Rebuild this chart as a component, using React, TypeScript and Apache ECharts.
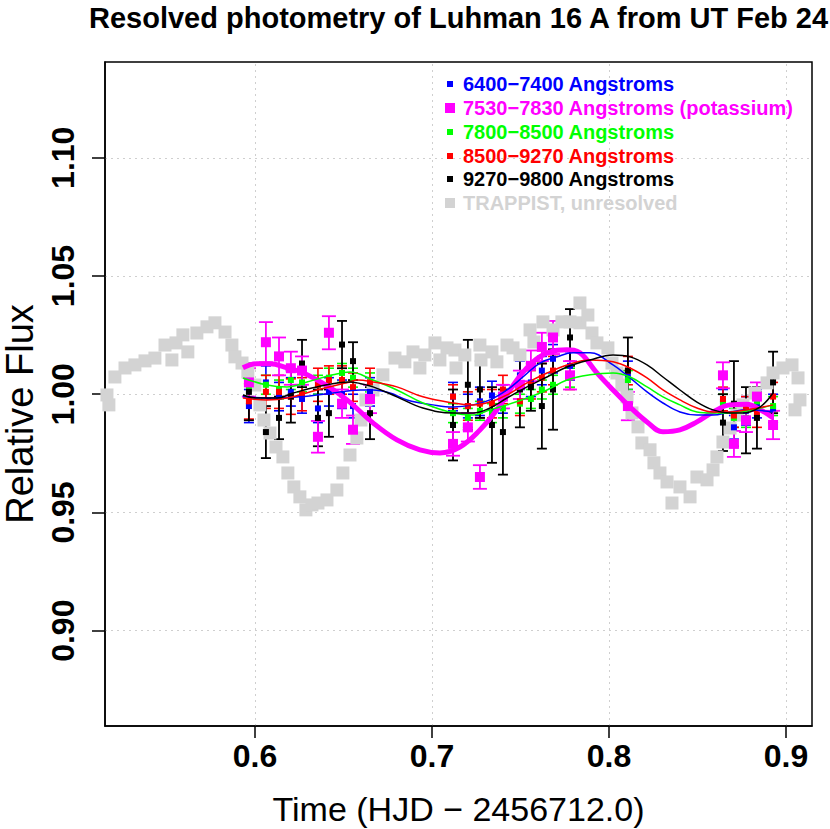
import React, { useEffect, useRef } from "react";
import * as echarts from "echarts";

// ---------- data ----------
const X_MIN = 0.5153;
const X_MAX = 0.9147;
const Y_MIN = 0.8597;
const Y_MAX = 1.1405;
const X_TICKS = [0.6, 0.7, 0.8, 0.9];
const Y_TICKS = [0.9, 0.95, 1.0, 1.05, 1.1];

const BAND_NAMES = [
  "6400\u22127400 Angstroms",
  "7530\u22127830 Angstroms (potassium)",
  "7800\u22128500 Angstroms",
  "8500\u22129270 Angstroms",
  "9270\u22129800 Angstroms",
  "TRAPPIST, unresolved",
];

const TIMES = [0.5966, 0.6062, 0.6136, 0.6203, 0.6266, 0.6356, 0.6418, 0.6492, 0.6554, 0.665, 0.7119, 0.7203, 0.7271, 0.7339, 0.7401, 0.7497, 0.7559, 0.7621, 0.7684, 0.778, 0.8107, 0.8644, 0.8706, 0.8774, 0.8836, 0.8927];

const BLUE_VAL = [0.995, 1.005, 0.999, 1.001, 0.998, 0.994, 1.001, 1.0, 0.995, 1.001, 0.999, 0.995, 0.997, 0.9995, 0.998, 1.008, 1.005, 1.01, 1.015, 1.012, 1.008, 0.997, 0.986, 0.993, 0.996, 0.994];
const BLUE_ERR = [0.007, 0.007, 0.006, 0.006, 0.006, 0.006, 0.006, 0.006, 0.005, 0.006, 0.006, 0.005, 0.006, 0.006, 0.006, 0.006, 0.006, 0.006, 0.006, 0.006, 0.006, 0.005, 0.005, 0.006, 0.006, 0.006];

const MAG_VAL = [1.005, 1.022, 1.016, 1.011, 1.01, 0.982, 1.026, 0.996, 0.985, 0.998, 0.979, 0.986, 0.965, null, 0.999, 1.004, 1.012, 1.02, 1.024, 1.008, 0.995, 1.008, 0.979, 0.989, 0.999, 0.987];
const MAG_ERR = [0.006, 0.0085, 0.008, 0.007, 0.006, 0.0067, 0.007, 0.006, 0.006, 0.006, 0.005, 0.006, 0.005, null, 0.005, 0.006, 0.0065, 0.006, 0.007, 0.006, 0.006, 0.0055, 0.0055, 0.005, 0.006, 0.006];

const GREEN_VAL = [1.003, 1.004, 1.002, 1.006, 1.005, 1.004, 1.007, 1.009, 1.007, 1.005, 0.992, 0.99, 0.993, 0.992, 0.994, 0.996, 0.998, 1.002, 1.004, 1.007, 1.006, 0.996, 0.99, 0.99, 0.997, 0.995];
const GREEN_ERR = [0.004, 0.004, 0.004, 0.004, 0.004, 0.004, 0.004, 0.004, 0.004, 0.004, 0.004, 0.004, 0.004, 0.004, 0.004, 0.004, 0.004, 0.004, 0.004, 0.004, 0.004, 0.004, 0.004, 0.004, 0.004, 0.004];

const RED_VAL = [0.997, 1.001, 1.001, 0.999, 1.0, 1.004, 1.006, 1.006, 1.003, 1.005, 0.999, 0.995, 0.996, 0.996, 1.002, 0.997, 1.004, 1.007, 1.01, 1.008, 1.01, 0.998, 0.991, 0.994, 0.992, 0.999];
const RED_ERR = [0.0075, 0.007, 0.007, 0.0075, 0.007, 0.007, 0.006, 0.006, 0.006, 0.006, 0.005, 0.006, 0.006, 0.006, 0.006, 0.006, 0.006, 0.006, 0.006, 0.006, 0.006, 0.005, 0.005, 0.005, 0.006, 0.006];

const BLACK_VAL = [1.001, 0.984, 0.99, 0.999, 1.013, 0.99, 0.992, 1.021, 1.014, 0.992, 0.987, 1.004, 1.002, 0.987, 0.984, 1.002, 1.003, 0.995, 1.002, 1.024, 1.01, 0.988, 0.996, 0.989, 0.99, 1.005];
const BLACK_ERR = [0.012, 0.011, 0.009, 0.011, 0.01, 0.012, 0.01, 0.01, 0.008, 0.011, 0.015, 0.019, 0.012, 0.016, 0.018, 0.016, 0.01, 0.018, 0.017, 0.012, 0.014, 0.012, 0.018, 0.014, 0.013, 0.013];

const TRAP_X = [0.5164, 0.5175, 0.5209, 0.5266, 0.5322, 0.5379, 0.5435, 0.5492, 0.5531, 0.5554, 0.5593, 0.5621, 0.5672, 0.5729, 0.5774, 0.5831, 0.587, 0.5887, 0.5927, 0.596, 0.6, 0.6028, 0.6051, 0.6085, 0.6119, 0.6158, 0.6186, 0.622, 0.6254, 0.6288, 0.6322, 0.6356, 0.6407, 0.6463, 0.6497, 0.6537, 0.6576, 0.6599, 0.6627, 0.6667, 0.6723, 0.6791, 0.6847, 0.6893, 0.6932, 0.696, 0.7017, 0.7045, 0.7085, 0.713, 0.7136, 0.7186, 0.7271, 0.7277, 0.7339, 0.7367, 0.7424, 0.7458, 0.7497, 0.7554, 0.7576, 0.7627, 0.7684, 0.7734, 0.778, 0.7836, 0.7836, 0.7881, 0.7904, 0.7932, 0.7994, 0.8017, 0.8045, 0.8073, 0.8102, 0.813, 0.8164, 0.8186, 0.8232, 0.8254, 0.8288, 0.8328, 0.8356, 0.8401, 0.8458, 0.8497, 0.8554, 0.8588, 0.861, 0.8644, 0.8684, 0.8723, 0.8757, 0.8825, 0.8893, 0.8927, 0.8983, 0.9034, 0.9068, 0.9079, 0.9051];
const TRAP_Y = [0.9997, 0.9955, 1.0073, 1.0111, 1.0124, 1.0141, 1.0153, 1.0208, 1.0145, 1.0217, 1.0251, 1.0179, 1.0259, 1.0285, 1.0302, 1.0263, 1.0208, 1.0158, 1.0132, 1.0094, 1.0039, 0.9955, 0.9891, 0.9836, 0.9777, 0.9735, 0.9667, 0.9608, 0.9566, 0.9511, 0.9532, 0.954, 0.9553, 0.9595, 0.9667, 0.9743, 0.9815, 0.9891, 0.9976, 1.0018, 1.0082, 1.0153, 1.0137, 1.0179, 1.0111, 1.0166, 1.0217, 1.0145, 1.0196, 1.0187, 1.0111, 1.0166, 1.0208, 1.0145, 1.0179, 1.0137, 1.0208, 1.0196, 1.0166, 1.0272, 1.0221, 1.0306, 1.0272, 1.0306, 1.0306, 1.0386, 1.0302, 1.0335, 1.0259, 1.0217, 1.0196, 1.0132, 1.009, 1.0039, 0.9989, 0.9921, 0.9862, 0.9794, 0.9765, 0.971, 0.9667, 0.9629, 0.954, 0.9608, 0.9566, 0.965, 0.9638, 0.968, 0.9735, 0.9798, 0.9857, 0.9912, 0.9955, 1.0005, 1.0048, 1.009, 1.0111, 1.0124, 1.0069, 0.9976, 0.9934];

const FIT_MAG_X = [0.5932, 0.6011, 0.6085, 0.6181, 0.6271, 0.6407, 0.652, 0.6667, 0.6802, 0.6932, 0.7045, 0.7158, 0.7271, 0.7367, 0.748, 0.7571, 0.7667, 0.7763, 0.7836, 0.7932, 0.8023, 0.8119, 0.8215, 0.8305, 0.8401, 0.8497, 0.8588, 0.8684, 0.878, 0.8853, 0.8927];
const FIT_MAG_Y = [1.0112, 1.0129, 1.0129, 1.0112, 1.0091, 1.0036, 0.9976, 0.9879, 0.9807, 0.9765, 0.9752, 0.9777, 0.9849, 0.9934, 1.006, 1.0137, 1.0179, 1.0188, 1.0175, 1.009, 1.0018, 0.9946, 0.9883, 0.9841, 0.9849, 0.9883, 0.9925, 0.9955, 0.9958, 0.9935, 0.99];

const FIT_BLUE_X = [0.5932, 0.6068, 0.6254, 0.6441, 0.6593, 0.6667, 0.6763, 0.6859, 0.7006, 0.7119, 0.7232, 0.7328, 0.7424, 0.7514, 0.761, 0.7706, 0.7797, 0.7893, 0.8023, 0.8119, 0.8215, 0.8305, 0.8401, 0.8497, 0.8588, 0.8684, 0.878, 0.8927];
const FIT_BLUE_Y = [0.9989, 0.9984, 0.9989, 1.0005, 1.0018, 1.0018, 1.0005, 0.9976, 0.9955, 0.9946, 0.9955, 0.9976, 1.0018, 1.0073, 1.0132, 1.0158, 1.0175, 1.0175, 1.0124, 1.0069, 1.001, 0.9963, 0.9925, 0.9912, 0.9912, 0.9925, 0.9934, 0.9925];

const FIT_GREEN_X = [0.5932, 0.6068, 0.6181, 0.6294, 0.6441, 0.6537, 0.6667, 0.6802, 0.6949, 0.7119, 0.7232, 0.7328, 0.7424, 0.7537, 0.765, 0.7763, 0.7893, 0.8023, 0.8119, 0.8215, 0.8305, 0.8401, 0.8497, 0.8588, 0.8684, 0.878, 0.8927];
const FIT_GREEN_Y = [1.0069, 1.0039, 1.0031, 1.0052, 1.0082, 1.0094, 1.006, 1.0018, 0.9963, 0.9921, 0.9912, 0.9934, 0.9955, 0.9984, 1.0018, 1.006, 1.0082, 1.009, 1.0073, 1.0031, 0.9989, 0.9955, 0.9925, 0.9921, 0.9921, 0.9929, 0.9955];

const FIT_RED_X = [0.5932, 0.6068, 0.6181, 0.635, 0.6537, 0.6576, 0.6667, 0.6802, 0.6949, 0.7119, 0.7232, 0.7328, 0.7424, 0.7537, 0.765, 0.7763, 0.7893, 0.8023, 0.8119, 0.8215, 0.8305, 0.8401, 0.8497, 0.8588, 0.8684, 0.878, 0.8927];
const FIT_RED_Y = [0.9984, 0.9976, 0.9984, 1.0018, 1.0052, 1.006, 1.0052, 1.0031, 0.9989, 0.9963, 0.9955, 0.9967, 0.9997, 1.0048, 1.009, 1.0124, 1.0145, 1.0137, 1.0111, 1.0069, 1.0018, 0.9976, 0.9942, 0.9925, 0.9925, 0.9934, 0.9955];

const FIT_BLACK_X = [0.5932, 0.6011, 0.6124, 0.6215, 0.635, 0.6537, 0.6576, 0.6667, 0.6802, 0.6949, 0.7119, 0.7232, 0.7328, 0.7424, 0.7537, 0.765, 0.7763, 0.7893, 0.8023, 0.8119, 0.8215, 0.8305, 0.8401, 0.8497, 0.8588, 0.8684, 0.8757, 0.8853, 0.8927];
const FIT_BLACK_Y = [0.9997, 0.9984, 0.9984, 1.0005, 1.0031, 1.0052, 1.0048, 1.0031, 0.9989, 0.9942, 0.9921, 0.9921, 0.9942, 0.9984, 1.0031, 1.0073, 1.0115, 1.0145, 1.0166, 1.0158, 1.0124, 1.0073, 1.0018, 0.9967, 0.9934, 0.9921, 0.9921, 0.9946, 1.0005];

// ---------- styling ----------
const FONT = "'Liberation Sans', Arial, Helvetica, sans-serif";
const BLUE = "#0000FF";
const MAGENTA = "#FF00FF";
const GREEN = "#00FF00";
const RED = "#FF0000";
const BLACK = "#000000";
const GRAY = "#D3D3D3";

function pairs(xs: number[], ys: (number | null)[]) {
  const out: number[][] = [];
  xs.forEach((x, i) => {
    const y = ys[i];
    if (y !== null && y !== undefined) out.push([x, y]);
  });
  return out;
}

function errData(vals: (number | null)[], errs: (number | null)[]) {
  const out: number[][] = [];
  TIMES.forEach((t, i) => {
    const v = vals[i];
    const e = errs[i];
    if (v !== null && e !== null) out.push([t, v - (e as number), v + (e as number)]);
  });
  return out;
}

function errSeries(name: string, vals: (number | null)[], errs: (number | null)[], color: string, capHalf: number, lw: number) {
  return {
    name: name + " err",
    type: "custom",
    clip: true,
    silent: true,
    data: errData(vals, errs),
    encode: { x: 0, y: [1, 2] },
    renderItem: (params: any, api: any) => {
      const x = api.value(0);
      const lo = api.value(1);
      const hi = api.value(2);
      const a = api.coord([x, hi]);
      const b = api.coord([x, lo]);
      const style = { stroke: color, lineWidth: lw, fill: "none" };
      return {
        type: "group",
        children: [
          { type: "line", shape: { x1: a[0], y1: a[1], x2: b[0], y2: b[1] }, style },
          { type: "line", shape: { x1: a[0] - capHalf, y1: a[1], x2: a[0] + capHalf, y2: a[1] }, style },
          { type: "line", shape: { x1: b[0] - capHalf, y1: b[1], x2: b[0] + capHalf, y2: b[1] }, style },
        ],
      };
    },
  };
}

function pointSeries(name: string, vals: (number | null)[], color: string, size: number) {
  return {
    name,
    type: "scatter",
    symbol: "rect",
    symbolSize: size,
    silent: true,
    itemStyle: { color, opacity: 1 },
    data: pairs(TIMES, vals),
  };
}

function fitSeries(name: string, xs: number[], ys: number[], color: string, width: number) {
  return {
    name,
    type: "line",
    smooth: 0.4,
    showSymbol: false,
    symbol: "none",
    silent: true,
    lineStyle: { color, width },
    data: pairs(xs, ys),
  };
}

const LEGEND_ROWS = [84, 108, 132, 156, 179, 203];
const LEGEND_COLORS = [BLUE, MAGENTA, GREEN, RED, BLACK, GRAY];
const LEGEND_SIZES = [6, 10, 6, 6, 6, 10];

export default function App() {
  const ref = useRef<HTMLDivElement>(null);
  useEffect(() => {
    if (!ref.current) return;
    const chart = echarts.init(ref.current, undefined, { renderer: "svg" });

    const legends = BAND_NAMES.map((name, i) => {
      const s = LEGEND_SIZES[i];
      const left = 450 - s / 2;
      return {
        show: true,
        data: [name],
        left,
        top: LEGEND_ROWS[i] - 11,
        orient: "vertical",
        itemWidth: s,
        itemHeight: s,
        icon: "rect",
        selectedMode: false,
        padding: 0,
        textStyle: {
          color: LEGEND_COLORS[i],
          fontSize: 20,
          fontWeight: "bold",
          fontFamily: FONT,
          lineHeight: 22,
          padding: [0, 0, 0, 463 - (left + s + 5)],
        },
      };
    });

    const option: any = {
      animation: false,
      backgroundColor: "#ffffff",
      title: {
        text: "Resolved photometry of Luhman 16 A from UT Feb 24",
        left: 89,
        top: 3,
        padding: 0,
        textStyle: { fontSize: 29, fontWeight: "bold", color: "#000", fontFamily: FONT },
      },
      legend: legends,
      grid: {
        left: 105,
        right: 18,
        top: 62,
        bottom: 103,
        containLabel: false,
        outerBoundsMode: "none",
        show: true,
        borderColor: "#000",
        borderWidth: 1.5,
        backgroundColor: "transparent",
      },
      xAxis: {
        type: "value",
        min: X_MIN,
        max: X_MAX,
        axisLine: { show: true, onZero: false, lineStyle: { color: "#000", width: 1.5 } },
        axisTick: { show: true, length: 12, customValues: X_TICKS, lineStyle: { color: "#000", width: 1.5 } },
        axisLabel: {
          customValues: X_TICKS,
          formatter: (v: number) => v.toFixed(1),
          fontSize: 32,
          fontWeight: "bold",
          color: "#000",
          fontFamily: FONT,
          margin: 14,
        },
        splitLine: { show: false },
        name: "Time (HJD \u2212 2456712.0)",
        nameLocation: "middle",
        nameGap: 66,
        nameTextStyle: { fontSize: 34, color: "#000", fontFamily: FONT },
      },
      yAxis: {
        type: "value",
        min: Y_MIN,
        max: Y_MAX,
        axisLine: { show: true, onZero: false, lineStyle: { color: "#000", width: 1.5 } },
        axisTick: { show: true, length: 13, customValues: Y_TICKS, lineStyle: { color: "#000", width: 1.5 } },
        axisLabel: {
          customValues: Y_TICKS,
          formatter: (v: number) => v.toFixed(2),
          rotate: 90,
          fontSize: 32,
          fontWeight: "bold",
          color: "#000",
          fontFamily: FONT,
          margin: 26,
        },
        splitLine: { show: false },
        name: "Relative Flux",
        nameLocation: "middle",
        nameGap: 62,
        nameTextStyle: { fontSize: 38, color: "#000", fontFamily: FONT, padding: [0, 40, 0, 0] },
      },
      series: [
        {
          name: BAND_NAMES[5],
          type: "scatter",
          symbol: "rect",
          symbolSize: 13,
          silent: true,
          itemStyle: { color: GRAY, opacity: 1 },
          data: pairs(TRAP_X, TRAP_Y),
          markLine: {
            silent: true,
            symbol: ["none", "none"],
            label: { show: false },
            z: 0,
            lineStyle: { color: "#CFCFCF", type: [2, 4], width: 1 },
            data: [
              ...X_TICKS.map((v) => ({ xAxis: v })),
              ...Y_TICKS.map((v) => ({ yAxis: v })),
            ],
          },
        },
        errSeries(BAND_NAMES[0], BLUE_VAL, BLUE_ERR, BLUE, 5, 1.6),
        pointSeries(BAND_NAMES[0], BLUE_VAL, BLUE, 6),
        errSeries(BAND_NAMES[2], GREEN_VAL, GREEN_ERR, GREEN, 5, 1.6),
        pointSeries(BAND_NAMES[2], GREEN_VAL, GREEN, 6),
        errSeries(BAND_NAMES[3], RED_VAL, RED_ERR, RED, 5, 1.6),
        pointSeries(BAND_NAMES[3], RED_VAL, RED, 6),
        errSeries(BAND_NAMES[4], BLACK_VAL, BLACK_ERR, BLACK, 5, 1.8),
        pointSeries(BAND_NAMES[4], BLACK_VAL, BLACK, 6),
        errSeries(BAND_NAMES[1], MAG_VAL, MAG_ERR, MAGENTA, 7, 1.8),
        pointSeries(BAND_NAMES[1], MAG_VAL, MAGENTA, 10),
        fitSeries("fit potassium", FIT_MAG_X, FIT_MAG_Y, MAGENTA, 5),
        fitSeries("fit 6400-7400", FIT_BLUE_X, FIT_BLUE_Y, BLUE, 1.5),
        fitSeries("fit 7800-8500", FIT_GREEN_X, FIT_GREEN_Y, GREEN, 1.5),
        fitSeries("fit 8500-9270", FIT_RED_X, FIT_RED_Y, RED, 1.5),
        fitSeries("fit 9270-9800", FIT_BLACK_X, FIT_BLACK_Y, BLACK, 1.5),
      ],
    };
    chart.setOption(option);
    return () => chart.dispose();
  }, []);
  return (
    <div
      ref={ref}
      style={{ position: "fixed", left: 0, top: 0, width: 830, height: 829, background: "#fff" }}
    />
  );
}
